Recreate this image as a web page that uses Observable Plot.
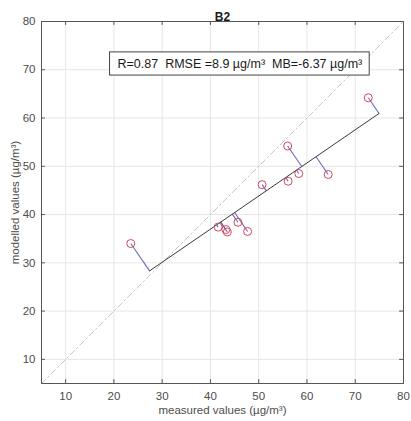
<!DOCTYPE html>
<html>
<head>
<meta charset="utf-8">
<script src="https://cdn.jsdelivr.net/npm/d3@7"></script>
<script src="https://cdn.jsdelivr.net/npm/@observablehq/plot@0.6"></script>
<style>
  html, body { margin: 0; padding: 0; background: #fff; }
</style>
</head>
<body>
<div id="chart"></div>
<script>
const measured = [23.5, 41.6, 43.2, 43.5, 45.7, 47.7, 50.7, 56.0, 56.1, 58.3, 64.4, 72.7];
const modelled = [34.0, 37.4, 36.9, 36.4, 38.4, 36.5, 46.2, 54.2, 46.9, 48.5, 48.3, 64.2];
const fitSlope = 0.686;
const fitIntercept = 9.54;
const xTicks = [10, 20, 30, 40, 50, 60, 70, 80];
const yTicks = [10, 20, 30, 40, 50, 60, 70, 80];
const axisRange = [5, 80];
const titleText = "B2";
const statsText = "R=0.87\u00a0\u00a0RMSE =8.9 µg/m³\u00a0\u00a0MB=-6.37 µg/m³";
const xLabel = "measured values (µg/m³)";
const yLabel = "modelled values (µg/m³)";

// orthogonal projection of each point onto the fitted line
const m = fitSlope, b = fitIntercept;
const pts = measured.map((x, i) => {
  const y = modelled[i];
  const t = (x + m * (y - b)) / (1 + m * m);
  return {x, y, px: t, py: m * t + b};
});
const ends = [pts[d3.minIndex(pts, d => d.x)], pts[d3.maxIndex(pts, d => d.x)]];
const diag = axisRange.map(v => ({x: v, y: v}));

const font = "'Liberation Sans', Arial, sans-serif";
const tickLen = 0.8;

const chart = Plot.plot({
  width: 411,
  height: 421,
  marginTop: 21,
  marginBottom: 38,
  marginLeft: 41,
  marginRight: 8,
  style: {fontFamily: font, fontSize: "11px", color: "#4d4d4d", background: "#fff"},
  x: {domain: axisRange, ticks: xTicks, label: null},
  y: {domain: axisRange, ticks: yTicks, label: null},
  marks: [
    Plot.gridX(xTicks, {stroke: "#e6e6e6", strokeOpacity: 1}),
    Plot.gridY(yTicks, {stroke: "#e6e6e6", strokeOpacity: 1}),
    Plot.axisX(xTicks, {tickSize: 0, tickPadding: 8, fontSize: 11.5, fill: "#4d4d4d", label: xLabel, labelAnchor: "center", labelOffset: 30, labelArrow: "none"}),
    Plot.axisY(yTicks, {tickSize: 0, tickPadding: 6, fontSize: 11.5, fill: "#4d4d4d", label: yLabel, labelAnchor: "center", labelOffset: 31, labelArrow: "none"}),
    // inner tick marks on all four sides
    Plot.ruleX(xTicks, {x: d => d, y1: axisRange[0], y2: axisRange[0] + tickLen, stroke: "#555"}),
    Plot.ruleX(xTicks, {x: d => d, y1: axisRange[1], y2: axisRange[1] - tickLen, stroke: "#555"}),
    Plot.ruleY(yTicks, {y: d => d, x1: axisRange[0], x2: axisRange[0] + tickLen, stroke: "#555"}),
    Plot.ruleY(yTicks, {y: d => d, x1: axisRange[1], x2: axisRange[1] - tickLen, stroke: "#555"}),
    Plot.line(diag, {x: "x", y: "y", stroke: "#bdbdbd", strokeWidth: 0.9, strokeDasharray: "6,3,1.5,3"}),
    Plot.link(pts, {x1: "x", y1: "y", x2: "px", y2: "py", stroke: "#6a6ab8", strokeWidth: 1.1}),
    Plot.line(ends, {x: "px", y: "py", stroke: "#3a3a3a", strokeWidth: 1}),
    Plot.dot(pts, {x: "x", y: "y", r: 4, stroke: "#d4465e", strokeWidth: 1, fill: "none"}),
    Plot.rect([0], {x1: 19.2, x2: 73.0, y1: 68.8, y2: 73.6, fill: "#fff", stroke: "#444", strokeWidth: 1}),
    Plot.text([statsText], {x: 46.1, y: 71.2, text: d => d, fontSize: 12.5, fill: "#1a1a1a"}),
    Plot.text([titleText], {frameAnchor: "top", dy: -9, text: d => d, fontSize: 12, fontWeight: "bold", fill: "#1a1a1a"}),
    Plot.frame({stroke: "#555"})
  ]
});
document.getElementById("chart").appendChild(chart);
</script>
</body>
</html>
